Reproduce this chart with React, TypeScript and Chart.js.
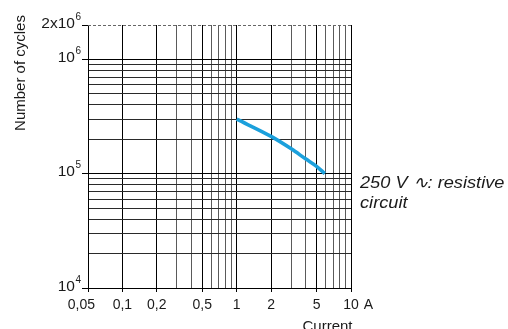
import React, { useEffect, useRef } from "react";
import { Chart, registerables } from "chart.js";

Chart.register(...registerables);

// ---- data ----
const currentA = [1, 2, 3, 4, 5, 5.9];
const cycles = [300000, 212000, 165000, 135000, 116000, 100000];

const xGridValues = [0.05, 0.1, 0.2, 0.3, 0.4, 0.5, 0.6, 0.7, 0.8, 0.9, 1, 2, 3, 4, 5, 6, 7, 8, 9, 10];
const xLabelValues = [0.05, 0.1, 0.2, 0.5, 1, 2, 5, 10];
const xLabelTexts = ["0,05", "0,1", "0,2", "0,5", "1", "2", "5", "10"];
const xUnit = "A";

const yGridValues = [
  10000, 20000, 30000, 40000, 50000, 60000, 70000, 80000, 90000,
  100000, 200000, 300000, 400000, 500000, 600000, 700000, 800000, 900000,
  1000000, 2000000,
];
const yLabelValues = [10000, 100000, 1000000, 2000000];
const yLabelBase = ["10", "10", "10", "2x10"];
const yLabelExp = ["4", "5", "6", "6"];

const xTitle = "Current";
const yTitle = "Number of cycles";
const noteLines = ["250 V \u223F: resistive", "circuit"];

const FONT = "'Liberation Sans', Arial, Helvetica, sans-serif";

function stretchText(ctx: CanvasRenderingContext2D, text: string, x: number, y: number, sx: number) {
  ctx.save();
  ctx.translate(x, y);
  ctx.scale(sx, 1);
  ctx.fillText(text, 0, 0);
  ctx.restore();
}

const textPlugin = {
  id: "textPlugin",
  afterDraw(chart: any) {
    const ctx = chart.ctx as CanvasRenderingContext2D;
    const xs = chart.scales.x;
    const ys = chart.scales.y;
    const area = chart.chartArea;
    ctx.save();

    // dashed top boundary at 2x10^6
    const yTop = Math.round(ys.getPixelForValue(2000000)) + 0.5;
    ctx.strokeStyle = "#666";
    ctx.lineWidth = 1;
    ctx.setLineDash([3, 2]);
    ctx.beginPath();
    ctx.moveTo(area.left, yTop);
    ctx.lineTo(area.right, yTop);
    ctx.stroke();
    ctx.setLineDash([]);

    ctx.fillStyle = "#1a1a1a";

    // y labels with superscripts
    yLabelValues.forEach((v, i) => {
      const py = ys.getPixelForValue(v);
      ctx.font = `10px ${FONT}`;
      const ew = ctx.measureText(yLabelExp[i]).width;
      const right = area.left - 7;
      ctx.textAlign = "left";
      ctx.textBaseline = "middle";
      ctx.fillText(yLabelExp[i], right - ew, py - 8);
      ctx.font = `15.5px ${FONT}`;
      ctx.textAlign = "right";
      ctx.fillText(yLabelBase[i], right - ew - 0.5, py - 1.5);
    });

    // x labels
    const labelY = 305.5;
    ctx.font = `14px ${FONT}`;
    ctx.textBaseline = "middle";
    xLabelValues.forEach((v, i) => {
      const px = xs.getPixelForValue(v);
      if (i === 0) {
        ctx.textAlign = "right";
        ctx.fillText(xLabelTexts[i], px + 7, labelY);
      } else {
        ctx.textAlign = "center";
        ctx.fillText(xLabelTexts[i], px, labelY);
      }
    });

    // unit after "10"
    const px10 = xs.getPixelForValue(10);
    const w10 = ctx.measureText("10").width;
    ctx.textAlign = "left";
    ctx.fillText(xUnit, px10 + w10 / 2 + 5, labelY);

    // x title
    ctx.font = `15px ${FONT}`;
    ctx.textAlign = "center";
    ctx.textBaseline = "alphabetic";
    ctx.fillText(xTitle, 327.5, 331);

    // y title
    ctx.save();
    ctx.translate(21, 73);
    ctx.rotate(-Math.PI / 2);
    ctx.textAlign = "center";
    ctx.textBaseline = "middle";
    ctx.font = `15px ${FONT}`;
    ctx.fillText(yTitle, 0, 0);
    ctx.restore();

    // annotation
    ctx.font = `italic 17px ${FONT}`;
    ctx.textAlign = "left";
    ctx.textBaseline = "middle";
    stretchText(ctx, noteLines[0], 360, 183, 1.07);
    stretchText(ctx, noteLines[1], 360, 203.5, 1.07);

    ctx.restore();
  },
};

export default function App() {
  const ref = useRef<HTMLCanvasElement | null>(null);

  useEffect(() => {
    if (!ref.current) return;
    const chart = new Chart(ref.current, {
      type: "line",
      data: {
        datasets: [
          {
            data: currentA.map((x, i) => ({ x, y: cycles[i] })),
            borderColor: "#1ba0dc",
            borderWidth: 3.6,
            pointRadius: 0,
            fill: false,
            cubicInterpolationMode: "monotone",
          } as any,
        ],
      },
      options: {
        animation: false,
        responsive: false,
        devicePixelRatio: 1,
        layout: { padding: { left: 0, top: 25, right: 157, bottom: 0 } },
        plugins: {
          legend: { display: false },
          tooltip: { enabled: false },
        },
        scales: {
          x: {
            type: "logarithmic",
            min: 0.05,
            max: 10,
            afterBuildTicks: (scale: any) => {
              scale.ticks = xGridValues.map((v) => ({ value: v }));
            },
            afterFit: (scale: any) => {
              scale.height = 41;
            },
            ticks: { display: false },
            grid: {
              color: (c: any) =>
                xLabelValues.includes(c.tick?.value) ? "#000" : "#5a5a5a",
              lineWidth: 1,
              drawTicks: true,
              tickLength: 4,
              tickColor: (c: any) =>
                xLabelValues.includes(c.tick?.value) ? "#000" : "rgba(0,0,0,0)",
            },
            border: { display: true, color: "#000" },
          },
          y: {
            type: "logarithmic",
            min: 10000,
            max: 2000000,
            afterBuildTicks: (scale: any) => {
              scale.ticks = yGridValues.map((v) => ({ value: v }));
            },
            afterFit: (scale: any) => {
              scale.width = 88;
            },
            ticks: { display: false },
            grid: {
              color: (c: any) => {
                const v = c.tick?.value;
                if (v === 2000000) return "rgba(0,0,0,0)";
                return yLabelValues.includes(v) ? "#000" : "#2a2a2a";
              },
              lineWidth: 1,
              drawTicks: true,
              tickLength: 6,
              tickColor: (c: any) =>
                yLabelValues.includes(c.tick?.value) ? "#000" : "rgba(0,0,0,0)",
            },
            border: { display: true, color: "#000" },
          },
        },
      } as any,
      plugins: [textPlugin],
    });
    return () => chart.destroy();
  }, []);

  return (
    <div style={{ position: "fixed", left: 0, top: 0, width: 508, height: 329, background: "#fff" }}>
      <canvas ref={ref} width={508} height={329} style={{ display: "block" }} />
    </div>
  );
}
